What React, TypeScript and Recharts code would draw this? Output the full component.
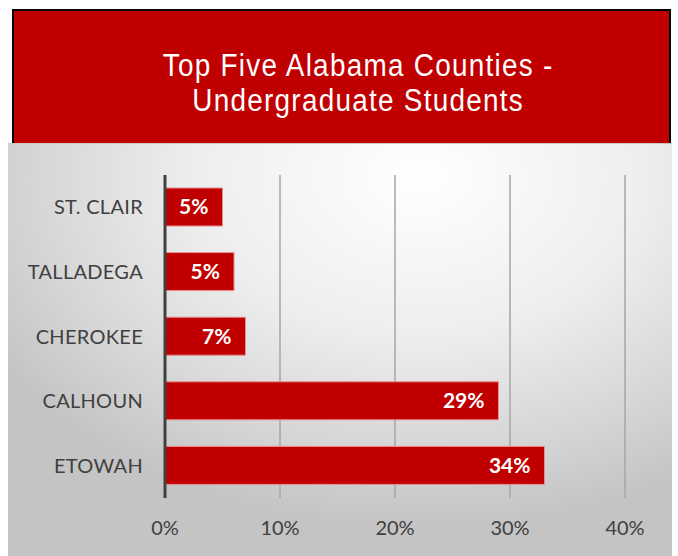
import React from "react";
import { BarChart, Bar, XAxis, YAxis, CartesianGrid, LabelList } from "recharts";

const counties = ["ST. CLAIR", "TALLADEGA", "CHEROKEE", "CALHOUN", "ETOWAH"];
const shares = [5, 6, 7, 29, 33];
const shareLabels = ["5%", "5%", "7%", "29%", "34%"];
const xTicks = [0, 10, 20, 30, 40];

const data = counties.map((name, i) => ({ name, value: shares[i], label: shareLabels[i] }));

const FONT = "Lato, 'Open Sans', sans-serif";

export default function App() {
  return (
    <div style={{ position: "absolute", left: 0, top: 0, width: 678, height: 556, background: "#fff", overflow: "hidden" }}>
      {/* red title block */}
      <div
        style={{
          position: "absolute",
          left: 12,
          top: 9,
          width: 659,
          height: 152,
          background: "#C00000",
          borderLeft: "2px solid #000",
          borderTop: "2px solid #000",
          borderRight: "2px solid #000",
          boxSizing: "border-box",
        }}
      >
        <div
          style={{
            color: "#fff",
            fontFamily: "'Liberation Sans', Arial, sans-serif",
            fontSize: 31,
            lineHeight: "35px",
            letterSpacing: 1.4,
            textAlign: "center",
            marginTop: 37,
            transform: "translateX(16px) scaleX(0.9)",
            transformOrigin: "334px 0",
          }}
        >
          Top Five Alabama Counties -<br />Undergraduate Students
        </div>
      </div>
      {/* grey plot panel */}
      <div
        style={{
          position: "absolute",
          left: 8,
          top: 143,
          width: 664,
          height: 413,
          borderTop: "1px solid #c8c8c8",
          background: "radial-gradient(ellipse 75% 85% at 62% 8%, #ffffff 0%, #eeeeee 45%, #d4d4d4 80%, #c4c4c4 100%)",
        }}
      >
        <BarChart
          width={664}
          height={413}
          data={data}
          layout="vertical"
          margin={{ top: 31, right: 47, bottom: 19, left: 0 }}
          barCategoryGap="41%"
        >
          <CartesianGrid horizontal={false} stroke="#a6a6a6" strokeWidth={1.5} />
          <XAxis
            type="number"
            domain={[0, 40]}
            ticks={xTicks}
            tickFormatter={(v) => `${v}%`}
            axisLine={false}
            tickLine={false}
            tickMargin={17}
            height={40}
            tick={{ fill: "#404040", fontSize: 20, fontFamily: FONT }}
          />
          <YAxis
            type="category"
            dataKey="name"
            width={157}
            axisLine={{ stroke: "#404040", strokeWidth: 3 }}
            tickLine={false}
            tickMargin={16}
            tick={{ fill: "#404040", fontSize: 20, fontFamily: FONT, letterSpacing: 0.3 }}
          />
          <Bar dataKey="value" fill="#C00000" stroke="#E89090" strokeWidth={1} barSize={38} isAnimationActive={false}>
            <LabelList
              dataKey="label"
              position="insideRight"
              offset={14}
              fill="#fff"
              fontSize={21}
              fontWeight="bold"
              fontFamily={FONT}
            />
          </Bar>
        </BarChart>
      </div>
    </div>
  );
}
